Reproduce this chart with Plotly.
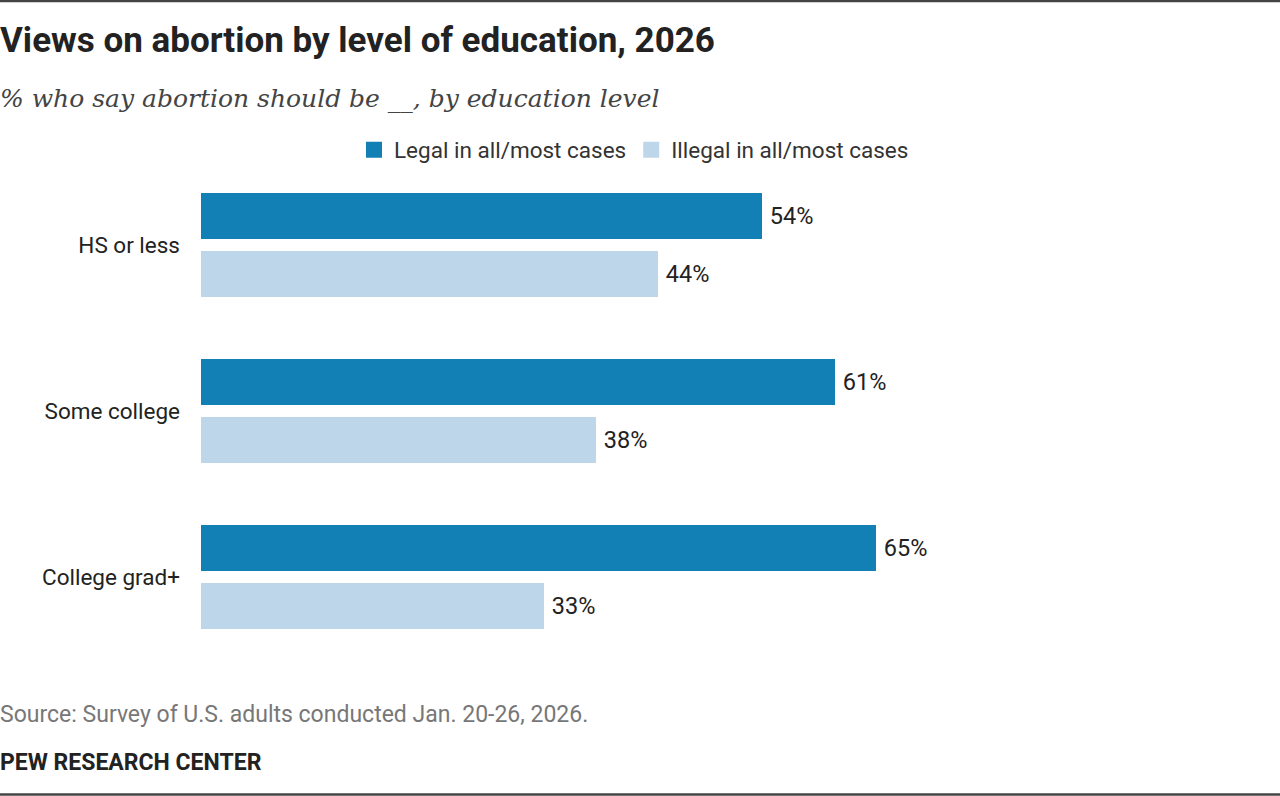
import plotly.graph_objects as go

categories = ["HS or less", "Some college", "College grad+"]
legal = [54, 61, 65]
illegal = [44, 38, 33]
series_names = ["Legal in all/most cases", "Illegal in all/most cases"]
colors = ["#127FB5", "#BED6EA"]

title = "Views on abortion by level of education, 2026"
subtitle = "% who say abortion should be __, by education level"
source = "Source: Survey of U.S. adults conducted Jan. 20-26, 2026."
brand = "PEW RESEARCH CENTER"

W, H = 1280, 796
ML, MR, MT, MB = 201, 40, 121, 95
PW = W - ML - MR
PH = H - MT - MB

def px_x(x):
    return (x - ML) / PW

def px_y(y):
    return (H - MB - y) / PH

SANS = "Roboto, Liberation Sans, Arial, sans-serif"
SERIF = "DejaVu Serif, Liberation Serif, Georgia, serif"

unit = PH / 3.5
bw = 46 / unit
inner = 6 / unit

fig = go.Figure()
for vals, name, col, off in [
    (legal, series_names[0], colors[0], -inner - bw),
    (illegal, series_names[1], colors[1], inner),
]:
    fig.add_trace(go.Bar(
        y=categories, x=vals, orientation="h", name=name,
        marker=dict(color=col, line=dict(width=0)),
        width=bw, offset=off,
        text=[f"\u2009{v}%" for v in vals], textposition="outside",
        textfont=dict(family=SANS, size=23.5, color="#222222"),
        cliponaxis=False, showlegend=False, hoverinfo="skip",
    ))
    fig.add_trace(go.Scatter(
        x=[None], y=[None], mode="markers", name=name,
        marker=dict(symbol="square", size=18, color=col),
        showlegend=True,
    ))

fig.update_layout(
    width=W, height=H,
    margin=dict(l=ML, r=MR, t=MT, b=MB),
    paper_bgcolor="white", plot_bgcolor="white",
    barmode="overlay",
    showlegend=True,
    legend=dict(
        orientation="h", x=px_x(354), xanchor="left", y=px_y(150), yanchor="middle",
        font=dict(family=SANS, size=22.5, color="#333333"),
        itemsizing="trace", tracegroupgap=0,
        bgcolor="rgba(0,0,0,0)",
    ),
    xaxis=dict(range=[0, 100], visible=False, fixedrange=True),
    yaxis=dict(
        type="category", categoryorder="array", categoryarray=categories,
        range=[2.75, -0.75], showgrid=False, zeroline=False, showline=False,
        ticks="", ticklabelstandoff=20, fixedrange=True,
        tickfont=dict(family=SANS, size=22.5, color="#222222"),
    ),
    bargap=0,
)

ann = [
    dict(text=f"<b>{title}</b>", x=px_x(-2), y=px_y(40), font=dict(family=SANS, size=35, color="#222222")),
    dict(text=f"<i>{subtitle}</i>", x=px_x(-2), y=px_y(98), font=dict(family=SERIF, size=25, color="#444444")),
    dict(text=source, x=px_x(-2), y=px_y(714), font=dict(family=SANS, size=23, color="#777777")),
    dict(text=f"<b>{brand}</b>", x=px_x(-2), y=px_y(762), font=dict(family=SANS, size=23, color="#222222")),
]
for a in ann:
    fig.add_annotation(xref="paper", yref="paper", xanchor="left", yanchor="middle",
                       showarrow=False, align="left", **a)

for yy in [1, 794.5]:
    fig.add_shape(type="line", xref="paper", yref="paper",
                  x0=px_x(0), x1=px_x(W), y0=px_y(yy), y1=px_y(yy),
                  line=dict(color="#444444", width=2.5))

fig.write_html("out.html", config={"displayModeBar": False},
               post_script="document.body.style.margin='0';")
